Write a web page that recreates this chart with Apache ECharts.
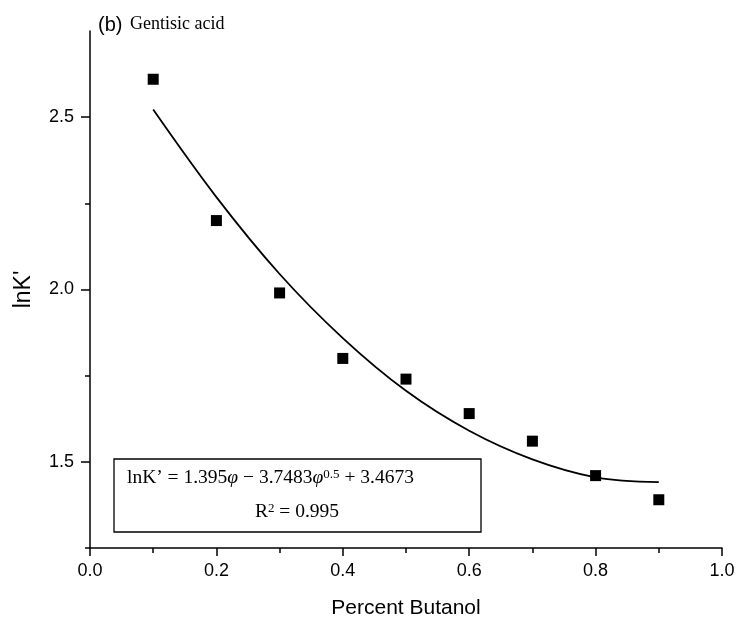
<!DOCTYPE html>
<html><head><meta charset="utf-8">
<script src="https://cdn.jsdelivr.net/npm/echarts@6/dist/echarts.min.js"></script>
<style>html,body{margin:0;padding:0;background:#fff}#c{width:740px;height:630px}</style>
</head><body><div id="c"></div>
<script>
const percentButanol = [0.1, 0.2, 0.3, 0.4, 0.5, 0.6, 0.7, 0.8, 0.9];
const lnK = [2.61, 2.20, 1.99, 1.80, 1.74, 1.64, 1.56, 1.46, 1.39];
const fitX = [0.1, 0.2, 0.3, 0.4, 0.5, 0.6, 0.7, 0.8, 0.9];
const fitY = [2.522, 2.268, 2.045, 1.859, 1.706, 1.590, 1.507, 1.455, 1.441];
const yMajorTicks = [1.5, 2.0, 2.5];
const yMinorTicks = [1.25, 1.75, 2.25];

const sans = '"Liberation Sans", Arial, sans-serif';
const serif = '"Liberation Serif", "Times New Roman", serif';
const axisColor = '#000';

const chart = echarts.init(document.getElementById('c'), null, {renderer: 'canvas'});
chart.setOption({
  backgroundColor: '#fff',
  animation: false,
  grid: {left: 90, right: 18, top: 31, bottom: 82, containLabel: false},
  xAxis: [{
    type: 'value', min: 0, max: 1, interval: 0.2,
    axisLine: {show: true, lineStyle: {color: axisColor, width: 1.5}},
    axisTick: {show: true, length: 8, lineStyle: {color: axisColor, width: 1.5}},
    minorTick: {show: true, splitNumber: 2, length: 5, lineStyle: {color: axisColor, width: 1.5}},
    axisLabel: {formatter: v => v.toFixed(1), fontSize: 18, fontFamily: sans, color: '#000', margin: 14},
    splitLine: {show: false},
    name: 'Percent Butanol', nameLocation: 'middle', nameGap: 50,
    nameTextStyle: {fontSize: 21, fontFamily: sans, color: '#000'}
  }],
  yAxis: [{
    type: 'value', min: 1.25, max: 2.75, interval: 0.25,
    axisLine: {show: true, lineStyle: {color: axisColor, width: 1.5}},
    axisTick: {show: true, length: 9, customValues: yMajorTicks, lineStyle: {color: axisColor, width: 1.5}},
    axisLabel: {customValues: yMajorTicks, formatter: v => v.toFixed(1), fontSize: 18, fontFamily: sans, color: '#000', margin: 16},
    splitLine: {show: false},
    name: "lnK'", nameLocation: 'middle', nameGap: 55,
    nameTextStyle: {fontSize: 23, fontFamily: sans, color: '#000'}
  }, {
    type: 'value', min: 1.25, max: 2.75, interval: 0.25, position: 'left', offset: 0,
    axisLine: {show: false},
    axisTick: {show: true, length: 5, customValues: yMinorTicks, lineStyle: {color: axisColor, width: 1.5}},
    axisLabel: {show: false},
    splitLine: {show: false}
  }],
  series: [{
    type: 'line',
    data: fitX.map((x, i) => [x, fitY[i]]),
    smooth: 0.35, showSymbol: false, symbol: 'none',
    lineStyle: {color: '#000', width: 1.8}, z: 2
  }, {
    type: 'scatter',
    data: percentButanol.map((x, i) => [x, lnK[i]]),
    symbol: 'rect', symbolSize: 11,
    itemStyle: {color: '#000', opacity: 1}, z: 3
  }],
  graphic: [
    {type: 'rect', shape: {x: 114, y: 459, width: 367, height: 73}, style: {fill: '#fff', stroke: '#000', lineWidth: 1.3}, z: 10},
    {type: 'text', x: 127, y: 478, z: 11, style: {
      text: '{a|lnK’ = 1.395}{i|φ}{a| − 3.7483}{i|φ}{s|0.5}{a| + 3.4673}',
      verticalAlign: 'middle', align: 'left',
      rich: {
        a: {fontFamily: serif, fontSize: 19.5, fill: '#000', color: '#000'},
        i: {fontFamily: serif, fontSize: 19.5, fontStyle: 'italic', fill: '#000', color: '#000'},
        s: {fontFamily: serif, fontSize: 13, fill: '#000', color: '#000', verticalAlign: 'top'}
      }
    }},
    {type: 'text', x: 297, y: 512, z: 11, style: {
      text: '{a|R}{s|2}{a| = 0.995}',
      verticalAlign: 'middle', align: 'center',
      rich: {
        a: {fontFamily: serif, fontSize: 19.5, fill: '#000', color: '#000'},
        s: {fontFamily: serif, fontSize: 13, fill: '#000', color: '#000', verticalAlign: 'top'}
      }
    }},
    {type: 'text', x: 98, y: 25, style: {text: '(b)', font: '20px ' + sans, fill: '#000', verticalAlign: 'middle'}},
    {type: 'text', x: 130, y: 24, style: {text: 'Gentisic acid', font: '18px ' + serif, fill: '#000', verticalAlign: 'middle'}}
  ]
});
</script>
</body></html>
